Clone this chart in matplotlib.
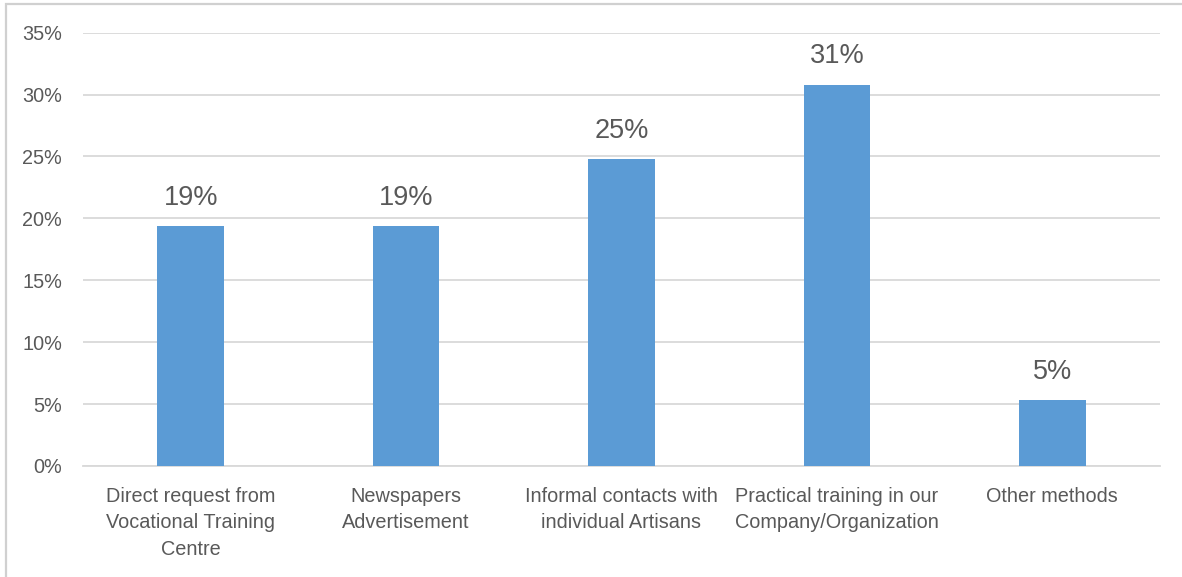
import matplotlib.pyplot as plt
from matplotlib.patches import Rectangle

plt.rcParams['font.family'] = ['Liberation Sans Narrow', 'Liberation Sans', 'DejaVu Sans']

# survey shares per recruitment channel (percent)
categories = [
    'Direct request from\nVocational Training\nCentre',
    'Newspapers\nAdvertisement',
    'Informal contacts with\nindividual Artisans',
    'Practical training in our\nCompany/Organization',
    'Other methods',
]
shares = [19.4, 19.4, 24.8, 30.8, 5.3]
yticks = [0, 5, 10, 15, 20, 25, 30, 35]

text_col = '#595959'
bar_col = '#5B9BD5'
grid_col = '#D9D9D9'

fig = plt.figure(figsize=(11.82, 5.77), dpi=100)
ax = fig.add_axes([0.0702, 0.1924, 0.9112, 0.7510])

x = range(len(categories))
bars = ax.bar(x, shares, width=0.31, color=bar_col, zorder=3)

for b, v in zip(bars, shares):
    ax.annotate(f'{v:.0f}%', (b.get_x() + b.get_width() / 2, v),
                xytext=(0, 11), textcoords='offset points',
                ha='center', va='bottom', fontsize=19.5, color=text_col)

ax.set_xlim(-0.5, len(categories) - 0.5)
ax.set_ylim(0, 35)
ax.set_yticks(yticks)
ax.set_yticklabels([f'{t}%' for t in yticks])
ax.set_xticks(list(x))
ax.set_xticklabels(categories, linespacing=1.5)

ax.grid(axis='y', color=grid_col, linewidth=1.3, zorder=0)
for s in ['top', 'right', 'left']:
    ax.spines[s].set_visible(False)
ax.spines['bottom'].set_color(grid_col)
ax.spines['bottom'].set_linewidth(1.3)
ax.tick_params(axis='both', length=0, colors=text_col, labelsize=14.3)
ax.tick_params(axis='y', pad=15)
ax.tick_params(axis='x', pad=15)

# light frame around the chart area
W, H = 1182, 577
fig.patches.append(Rectangle((6 / W, -0.1), 1.2, (H - 4) / H + 0.1,
                             transform=fig.transFigure, fill=False,
                             edgecolor='#D0D0D0', linewidth=1.6))

fig.savefig('out.png', dpi=100)
